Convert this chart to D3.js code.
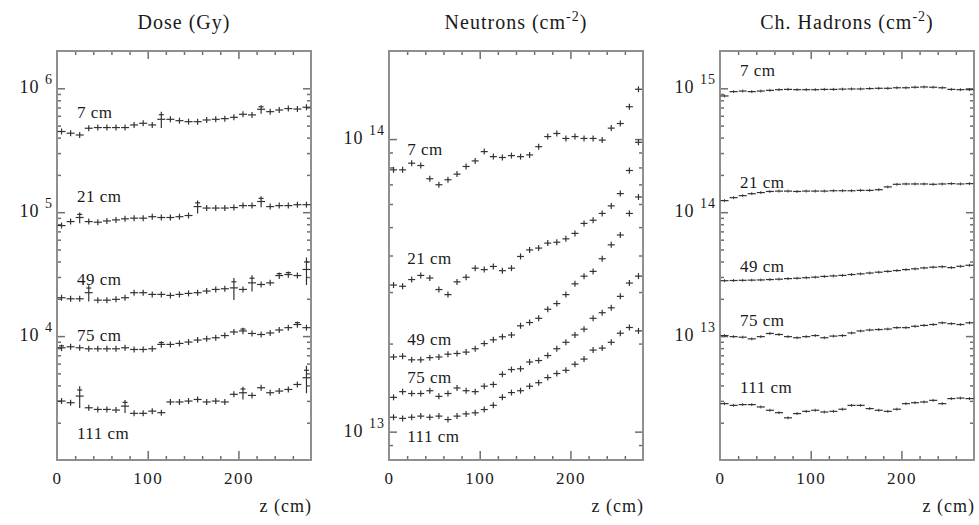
<!DOCTYPE html>
<html>
<head>
<meta charset="utf-8">
<script src="https://cdn.jsdelivr.net/npm/d3@7/dist/d3.min.js"></script>
<style>
  body { margin:0; background:#fff; }
  svg, svg text { font-family:"Liberation Serif","Times New Roman","DejaVu Serif",serif; }
  .title { font-size:20px; letter-spacing:1px; fill:#1a1a1a; }
  .tick-label { font-size:17px; letter-spacing:1.5px; fill:#1a1a1a; }
  .exp-label { font-size:18px; letter-spacing:1px; fill:#1a1a1a; }
  .axis-title { font-size:18px; letter-spacing:1px; fill:#1a1a1a; }
  .series-label { font-size:17px; letter-spacing:0.5px; fill:#1a1a1a; }
  .axis line { stroke:#6f6f6f; stroke-width:1.5; }
  .frame { fill:none; stroke:#8f8f8f; stroke-width:2; }
  .mark { stroke:#333; stroke-width:1.2; fill:none; }
</style>
</head>
<body>
<div id="chart"></div>
<script>

// z bin centres (cm), shared by all panels
var zBins = [5,15,25,35,45,55,65,75,85,95,105,115,125,135,145,155,165,175,185,195,205,215,225,235,245,255,265,275];
var radii = ["7 cm","21 cm","49 cm","75 cm","111 cm"];

// Dose (Gy)
var dose7   = [4.48e5,4.34e5,4.2e5,4.76e5,4.82e5,4.82e5,4.82e5,4.82e5,5.06e5,5.22e5,5.06e5,5.62e5,5.62e5,5.48e5,5.38e5,5.38e5,5.55e5,5.62e5,5.69e5,5.83e5,6.17e5,6.1e5,6.77e5,6.48e5,6.68e5,6.86e5,6.8e5,7.03e5];
var dose21  = [7.8e4,8.4e4,9.06e4,8.4e4,8.3e4,8.5e4,8.67e4,8.84e4,8.95e4,8.95e4,9.2e4,9.06e4,9.06e4,9.2e4,9.4e4,1.11e5,1.08e5,1.08e5,1.08e5,1.09e5,1.13e5,1.13e5,1.22e5,1.11e5,1.13e5,1.13e5,1.15e5,1.15e5];
var dose49  = [2.04e4,2.0e4,2.0e4,2.24e4,1.95e4,1.95e4,1.98e4,2.04e4,2.24e4,2.24e4,2.17e4,2.17e4,2.13e4,2.17e4,2.21e4,2.24e4,2.31e4,2.38e4,2.41e4,2.45e4,2.38e4,2.69e4,2.61e4,2.69e4,3.08e4,3.14e4,3.08e4,3.45e4];
var dose75  = [8.05e3,8.2e3,8.05e3,7.9e3,7.9e3,7.9e3,7.9e3,8.05e3,7.8e3,7.8e3,7.9e3,8.57e3,8.57e3,8.73e3,8.95e3,9.29e3,9.5e3,9.7e3,1.01e4,1.08e4,1.10e4,1.05e4,1.03e4,1.06e4,1.12e4,1.17e4,1.24e4,1.17e4];
var dose111 = [2.99e3,2.9e3,3.28e3,2.64e3,2.56e3,2.56e3,2.53e3,2.72e3,2.38e3,2.38e3,2.48e3,2.41e3,2.94e3,2.94e3,2.99e3,3.08e3,2.94e3,2.99e3,2.94e3,3.39e3,3.49e3,3.32e3,3.83e3,3.49e3,3.6e3,3.71e3,4.07e3,4.61e3];
// the few large error bars on the dose points: [bin index, relative error]
var doseErr7   = [[11,0.15],[22,0.08]];
var doseErr21  = [[2,0.10],[15,0.12],[22,0.10]];
var doseErr49  = [[3,0.15],[19,0.20],[21,0.15],[24,0.06],[25,0.06],[27,0.25]];
var doseErr75  = [[0,0.06],[11,0.06],[20,0.06],[26,0.06]];
var doseErr111 = [[2,0.20],[7,0.12],[20,0.12],[27,0.25]];

// Neutrons (cm^-2)
var neut7   = [7.85e13,7.85e13,8.27e13,8.12e13,7.32e13,6.98e13,7.26e13,7.59e13,8.06e13,8.42e13,9.06e13,8.71e13,8.65e13,8.78e13,8.71e13,8.83e13,9.42e13,1.02e14,1.045e14,1.005e14,1.02e14,1.005e14,1.005e14,9.92e13,1.09e14,1.13e14,1.29e14,1.48e14];
var neut21  = [3.17e13,3.14e13,3.31e13,3.42e13,3.35e13,3.06e13,2.94e13,3.25e13,3.37e13,3.62e13,3.58e13,3.67e13,3.55e13,3.62e13,3.97e13,4.18e13,4.24e13,4.41e13,4.44e13,4.56e13,4.76e13,5.15e13,5.28e13,5.57e13,5.91e13,6.51e13,7.81e13,9.75e13];
var neut49  = [1.80e13,1.81e13,1.76e13,1.76e13,1.79e13,1.80e13,1.84e13,1.85e13,1.87e13,1.92e13,2.00e13,2.06e13,2.11e13,2.14e13,2.30e13,2.36e13,2.44e13,2.62e13,2.74e13,2.94e13,3.20e13,3.40e13,3.53e13,3.9e13,4.35e13,4.70e13,5.57e13,6.34e13];
var neut75  = [1.31e13,1.37e13,1.35e13,1.35e13,1.38e13,1.32e13,1.35e13,1.41e13,1.38e13,1.37e13,1.43e13,1.45e13,1.57e13,1.63e13,1.64e13,1.73e13,1.75e13,1.82e13,1.92e13,2.02e13,2.14e13,2.24e13,2.44e13,2.55e13,2.65e13,2.90e13,3.22e13,3.40e13];
var neut111 = [1.12e13,1.11e13,1.12e13,1.13e13,1.12e13,1.13e13,1.10e13,1.13e13,1.15e13,1.16e13,1.19e13,1.23e13,1.31e13,1.36e13,1.38e13,1.43e13,1.47e13,1.53e13,1.58e13,1.62e13,1.70e13,1.77e13,1.90e13,1.93e13,2.02e13,2.17e13,2.27e13,2.21e13];

// Charged hadrons (cm^-2)
var had7   = [8.67e14,9.4e14,9.5e14,9.4e14,9.5e14,9.63e14,9.75e14,9.8e14,9.75e14,9.75e14,9.75e14,9.8e14,9.8e14,9.85e14,9.88e14,9.88e14,9.95e14,1.0e15,1.0e15,1.01e15,1.01e15,1.02e15,1.025e15,1.02e15,1.01e15,9.8e14,9.75e14,9.75e14];
var had21  = [1.24e14,1.31e14,1.36e14,1.41e14,1.44e14,1.47e14,1.48e14,1.48e14,1.47e14,1.48e14,1.48e14,1.48e14,1.49e14,1.49e14,1.49e14,1.50e14,1.50e14,1.52e14,1.60e14,1.68e14,1.69e14,1.69e14,1.69e14,1.68e14,1.69e14,1.70e14,1.69e14,1.70e14];
var had49  = [2.80e13,2.81e13,2.82e13,2.83e13,2.84e13,2.86e13,2.88e13,2.91e13,2.93e13,2.96e13,2.99e13,3.03e13,3.06e13,3.09e13,3.14e13,3.18e13,3.23e13,3.28e13,3.33e13,3.38e13,3.44e13,3.49e13,3.55e13,3.60e13,3.63e13,3.57e13,3.66e13,3.73e13];
var had75  = [1.01e13,9.9e12,9.8e12,9.5e12,9.9e12,1.05e13,1.03e13,9.9e12,9.7e12,9.9e12,1.01e13,9.7e12,1.0e13,1.01e13,1.06e13,1.10e13,1.12e13,1.13e13,1.14e13,1.17e13,1.17e13,1.20e13,1.22e13,1.24e13,1.28e13,1.26e13,1.24e13,1.28e13];
var had111 = [2.85e12,2.76e12,2.80e12,2.80e12,2.68e12,2.52e12,2.41e12,2.19e12,2.37e12,2.47e12,2.52e12,2.44e12,2.47e12,2.57e12,2.76e12,2.76e12,2.60e12,2.52e12,2.47e12,2.57e12,2.85e12,2.90e12,2.94e12,3.03e12,2.85e12,3.13e12,3.16e12,3.13e12];

// where the radius labels sit, in data units [z, value]
var doseLabelAt = [[22,5.8e5],[22,1.2e5],[22,2.6e4],[22,9.1e3],[22,1.48e3]];
var neutLabelAt = [[20,8.8e13],[20,3.74e13],[20,1.97e13],[20,1.47e13],[20,9.2e12]];
var hadLabelAt  = [[22,1.25e15],[22,1.56e14],[22,3.28e13],[22,1.2e13],[22,3.47e12]];

var xTicks = [0,100,200];
var xMinor = [20,40,60,80,120,140,160,180,220,240,260];

/////////////////////////

var panels = [
  { title:["Dose (Gy)"], domain:[1e3,2e6], exps:[4,5,6], style:"dose",
    series:[dose7,dose21,dose49,dose75,dose111],
    errs:[doseErr7,doseErr21,doseErr49,doseErr75,doseErr111], labelAt:doseLabelAt },
  { title:["Neutrons (cm","-2",")"], domain:[8e12,2e14], exps:[13,14], style:"neut",
    series:[neut7,neut21,neut49,neut75,neut111], errs:null, labelAt:neutLabelAt },
  { title:["Ch. Hadrons (cm","-2",")"], domain:[1e12,2e15], exps:[13,14,15], style:"had",
    series:[had7,had21,had49,had75,had111], errs:null, labelAt:hadLabelAt }
];

var panelLeft = [57, 389, 720],
    plotTop = 51,
    width = 254,
    height = 409;

var serif = "'Liberation Serif','Times New Roman','DejaVu Serif',serif";

var svg = d3.select("#chart").append("svg")
    .attr("width", 979)
    .attr("height", 525)
    .attr("font-family", serif);

panels.forEach(function(p, pi){

  var g = svg.append("g")
      .attr("transform", "translate(" + panelLeft[pi] + "," + plotTop + ")");

  var x = d3.scaleLinear().domain([0,280]).range([0,width]);
  var y = d3.scaleLog().domain(p.domain).range([height,0]);

  // minor log ticks 2..9 inside the domain
  var yMajor = p.exps.map(function(e){ return Math.pow(10,e); });
  var yMinor = [];
  var lo = Math.floor(Math.log10(p.domain[0])), hi = Math.ceil(Math.log10(p.domain[1]));
  for(var e=lo; e<hi; e++){
    for(var k=2; k<10; k++){
      var v = k*Math.pow(10,e);
      if(v>p.domain[0] && v<p.domain[1]) yMinor.push(v);
    }
  }

  function noDomain(sel){ sel.select(".domain").remove(); }

  // ticks on all four sides, pointing inward
  g.append("g").attr("class","axis")
    .call(d3.axisLeft(y).tickValues(yMajor).tickSize(-8).tickFormat("")).call(noDomain);
  g.append("g").attr("class","axis")
    .call(d3.axisLeft(y).tickValues(yMinor).tickSize(-4).tickFormat("")).call(noDomain);
  g.append("g").attr("class","axis").attr("transform","translate("+width+",0)")
    .call(d3.axisRight(y).tickValues(yMajor).tickSize(-8).tickFormat("")).call(noDomain);
  g.append("g").attr("class","axis").attr("transform","translate("+width+",0)")
    .call(d3.axisRight(y).tickValues(yMinor).tickSize(-4).tickFormat("")).call(noDomain);
  g.append("g").attr("class","axis")
    .call(d3.axisTop(x).tickValues(xTicks.slice(1)).tickSize(-8).tickFormat("")).call(noDomain);
  g.append("g").attr("class","axis")
    .call(d3.axisTop(x).tickValues(xMinor).tickSize(-4).tickFormat("")).call(noDomain);
  g.append("g").attr("class","axis").attr("transform","translate(0,"+height+")")
    .call(d3.axisBottom(x).tickValues(xMinor).tickSize(-4).tickFormat("")).call(noDomain);
  var xb = g.append("g").attr("class","axis").attr("transform","translate(0,"+height+")")
    .call(d3.axisBottom(x).tickValues(xTicks).tickSize(-9).tickPadding(12)).call(noDomain);
  xb.attr("font-family", serif).attr("font-size", null);
  xb.selectAll("text").attr("class","tick-label").attr("fill",null);
  xb.selectAll(".tick").filter(function(d){ return d===0; }).select("line").remove();

  // frame
  g.append("rect").attr("class","frame")
    .attr("x",0).attr("y",0).attr("width",width).attr("height",height);

  // y labels 10^n
  p.exps.forEach(function(e){
    var t = g.append("text").attr("class","exp-label")
      .attr("x",-4).attr("y", y(Math.pow(10,e)) + 5)
      .style("text-anchor","end");
    t.append("tspan").text("10 ");
    t.append("tspan").attr("dy",-9).style("font-size","14px").text(e);
  });

  // title
  var tt = svg.append("text").attr("class","title")
    .attr("x", panelLeft[pi] + width/2).attr("y", 29)
    .style("text-anchor","middle");
  tt.append("tspan").text(p.title[0]);
  if(p.title.length>1){
    tt.append("tspan").attr("dy",-8).style("font-size","14px").text(p.title[1]);
    tt.append("tspan").attr("dy",8).text(p.title[2]);
  }

  // z (cm)
  svg.append("text").attr("class","axis-title")
    .attr("x", panelLeft[pi] + width + 1).attr("y", 512)
    .style("text-anchor","end")
    .text("z (cm)");

  // data
  var marks = g.append("g");
  p.series.forEach(function(vals, si){
    var big = {};
    if(p.errs) p.errs[si].forEach(function(d){ big[d[0]] = d[1]; });
    var pts = vals.map(function(v,i){ return {z:zBins[i], v:v, err:big[i]}; });

    var sg = marks.append("g");
    if(p.style==="had"){
      sg.selectAll("line.h").data(pts).enter().append("line")
        .attr("class","mark h")
        .attr("x1", function(d){ return x(d.z-5)+0.5; })
        .attr("x2", function(d){ return x(d.z+5)-0.5; })
        .attr("y1", function(d){ return y(d.v); })
        .attr("y2", function(d){ return y(d.v); });
      sg.selectAll("line.v").data(pts).enter().append("line")
        .attr("class","mark v").style("stroke-width",0.9)
        .attr("x1", function(d){ return x(d.z); })
        .attr("x2", function(d){ return x(d.z); })
        .attr("y1", function(d){ return y(d.v)-1.5; })
        .attr("y2", function(d){ return y(d.v)+1.5; });
    } else {
      var hw = p.style==="dose" ? 4 : 3.5;
      sg.selectAll("line.h").data(pts).enter().append("line")
        .attr("class","mark h")
        .attr("x1", function(d){ return x(d.z)-hw; })
        .attr("x2", function(d){ return x(d.z)+hw; })
        .attr("y1", function(d){ return y(d.v); })
        .attr("y2", function(d){ return y(d.v); });
      sg.selectAll("line.v").data(pts).enter().append("line")
        .attr("class","mark v")
        .attr("x1", function(d){ return x(d.z); })
        .attr("x2", function(d){ return x(d.z); })
        .attr("y1", function(d){ return d.err ? y(d.v*(1+d.err)) : y(d.v)-3; })
        .attr("y2", function(d){ return d.err ? y(d.v*(1-d.err)) : y(d.v)+3; });
      // a short cap on the big error bars
      sg.selectAll("line.c").data(pts.filter(function(d){ return d.err; })).enter().append("line")
        .attr("class","mark c")
        .attr("x1", function(d){ return x(d.z)-2.5; })
        .attr("x2", function(d){ return x(d.z)+2.5; })
        .attr("y1", function(d){ return y(d.v*(1+d.err*0.6)); })
        .attr("y2", function(d){ return y(d.v*(1+d.err*0.6)); });
    }

    // radius label
    g.append("text").attr("class","series-label")
      .attr("x", x(p.labelAt[si][0]))
      .attr("y", y(p.labelAt[si][1]))
      .text(radii[si]);
  });

});

</script>
</body>
</html>
